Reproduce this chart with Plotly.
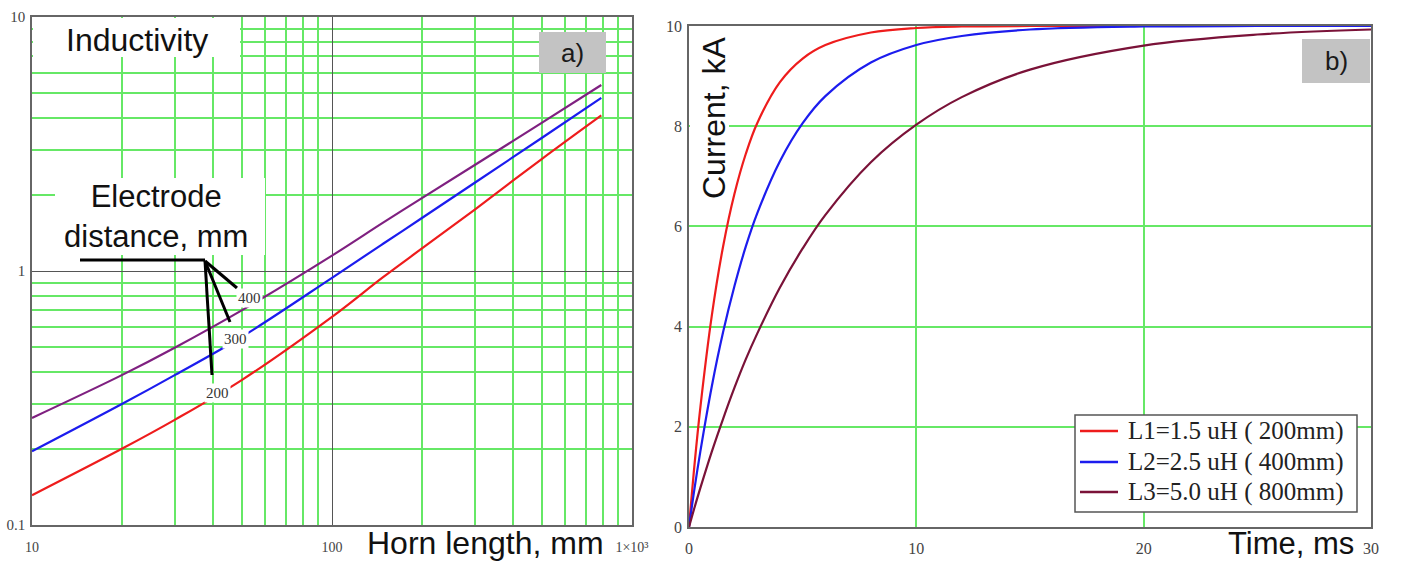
import math
import plotly.graph_objects as go

W, H = 1402, 563

# ---------------- data: panel a) inductivity vs horn length ----------------
horn_len = [10, 20, 30, 50, 100, 148, 200, 300, 500, 790]
L_d400 = [0.264, 0.39, 0.50, 0.70, 1.15, 1.55, 1.94, 2.62, 3.83, 5.4]
L_d300 = [0.195, 0.30, 0.39, 0.55, 0.94, 1.28, 1.62, 2.23, 3.34, 4.8]
L_d200 = [0.131, 0.20, 0.26, 0.372, 0.66, 0.946, 1.23, 1.75, 2.76, 4.1]

# ---------------- data: panel b) current vs time ----------------
time_ms = [0, 0.25, 0.5, 1, 1.5, 2, 2.5, 3, 4, 5, 6, 8, 10, 12, 15, 20, 25, 30]
I_L1 = [0, 1.28, 2.39, 4.21, 5.60, 6.65, 7.45, 8.06, 8.88, 9.35, 9.62, 9.87, 9.96, 9.99, 10, 10, 10, 10]
I_L2 = [0, 0.79, 1.51, 2.80, 3.89, 4.81, 5.60, 6.26, 7.30, 8.06, 8.60, 9.27, 9.62, 9.80, 9.93, 9.99, 10, 10]
I_L3 = [0, 0.40, 0.78, 1.50, 2.16, 2.78, 3.35, 3.86, 4.78, 5.56, 6.23, 7.28, 8.03, 8.58, 9.13, 9.61, 9.83, 9.93]

legend_names = ["L1=1.5 uH ( 200mm)", "L2=2.5 uH ( 400mm)", "L3=5.0 uH ( 800mm)"]
curve_labels = ["400", "300", "200"]
left_xticks = [10, 100, 1000]
left_xtext = ["10", "100", "1×10³"]
left_yticks = [0.1, 1, 10]
left_ytext = ["0.1", "1", "10"]
right_xticks = [0, 10, 20, 30]
right_yticks = [0, 2, 4, 6, 8, 10]

RED = "#ee1c1c"
BLUE = "#1c1cee"
PURPLE = "#7f2080"
MAROON = "#7a1238"
GREEN = "#66e866"
BORDER = "#666666"
SERIF = "Liberation Serif, Times New Roman, serif"
SANS = "Liberation Sans, Arial, sans-serif"

def px(x):
    return x / W

def py(y):
    return 1 - y / H

fig = go.Figure()

for yv, col in [(L_d400, PURPLE), (L_d300, BLUE), (L_d200, RED)]:
    fig.add_trace(go.Scatter(x=horn_len, y=yv, mode="lines", line=dict(color=col, width=2.2, shape="spline"),
                             showlegend=False, xaxis="x", yaxis="y", hoverinfo="skip"))

right_colors = [RED, BLUE, MAROON]
for yv, col, nm in zip([I_L1, I_L2, I_L3], right_colors, legend_names):
    fig.add_trace(go.Scatter(x=time_ms, y=yv, mode="lines", line=dict(color=col, width=2.2, shape="spline"),
                             name=nm, showlegend=False, xaxis="x2", yaxis="y2"))

minor_x = [v * d for d in (10, 100) for v in range(2, 10)]
minor_y = [v * d for d in (0.1, 1) for v in range(2, 10)]

fig.update_layout(
    width=W, height=H, margin=dict(l=0, r=0, t=0, b=0), autosize=False,
    paper_bgcolor="white", plot_bgcolor="white", showlegend=False,
    xaxis=dict(type="log", range=[1, 3], domain=[px(32), px(632)], anchor="y", automargin=False,
               tickvals=left_xticks, ticktext=left_xtext, showgrid=True, gridcolor="#555555", gridwidth=1.2,
               minor=dict(tickvals=minor_x, showgrid=True, gridcolor=GREEN, gridwidth=1.8, ticks=""),
               showline=True, linecolor=BORDER, linewidth=1.5, mirror=True, ticks="",
               tickfont=dict(family=SERIF, size=14, color="#444"), ticklabelstandoff=8, zeroline=False),
    yaxis=dict(type="log", range=[-1, 1], domain=[py(525), py(17)], anchor="x", automargin=False,
               tickvals=left_yticks, ticktext=left_ytext, showgrid=True, gridcolor="#555555", gridwidth=1.2,
               minor=dict(tickvals=minor_y, showgrid=True, gridcolor=GREEN, gridwidth=1.8, ticks=""),
               showline=True, linecolor=BORDER, linewidth=1.5, mirror=True, ticks="",
               tickfont=dict(family=SERIF, size=15, color="#444"), ticklabelstandoff=2, zeroline=False),
    xaxis2=dict(range=[0, 30], domain=[px(689), px(1371)], anchor="y2", automargin=False,
                tickvals=right_xticks, showgrid=True, gridcolor=GREEN, gridwidth=1.8,
                showline=True, linecolor=BORDER, linewidth=1.5, mirror=True, ticks="",
                tickfont=dict(family=SERIF, size=16, color="#444"), ticklabelstandoff=6, zeroline=False),
    yaxis2=dict(range=[0, 10], domain=[py(527), py(26)], anchor="x2", automargin=False,
                tickvals=right_yticks, showgrid=True, gridcolor=GREEN, gridwidth=1.8,
                showline=True, linecolor=BORDER, linewidth=1.5, mirror=True, ticks="",
                tickfont=dict(family=SERIF, size=16, color="#444"), ticklabelstandoff=2, zeroline=False),
)

shapes = []
# white boxes hiding the grid behind the texts
shapes.append(dict(type="rect", xref="paper", yref="paper", x0=px(33), x1=px(240), y0=py(57), y1=py(18),
                   fillcolor="white", line=dict(width=0), layer="above"))
shapes.append(dict(type="rect", xref="paper", yref="paper", x0=px(55), x1=px(265), y0=py(255), y1=py(178),
                   fillcolor="white", line=dict(width=0), layer="above"))
shapes.append(dict(type="rect", xref="paper", yref="paper", x0=px(690), x1=px(729), y0=py(198), y1=py(35),
                   fillcolor="white", line=dict(width=0), layer="above"))
# grey label boxes
shapes.append(dict(type="rect", xref="paper", yref="paper", x0=px(539), x1=px(606), y0=py(73), y1=py(32),
                   fillcolor="#c3c3c3", line=dict(width=0), layer="above"))
shapes.append(dict(type="rect", xref="paper", yref="paper", x0=px(1302), x1=px(1370), y0=py(83), y1=py(39),
                   fillcolor="#c3c3c3", line=dict(width=0), layer="above"))
# pointer lines
for (x0, y0, x1, y1) in [(80, 260, 205, 260), (205, 261, 237, 288), (205, 261, 230, 322), (205, 261, 212, 375)]:
    shapes.append(dict(type="line", xref="paper", yref="paper", x0=px(x0), y0=py(y0), x1=px(x1), y1=py(y1),
                       line=dict(color="black", width=3), layer="above"))
# legend box for panel b
shapes.append(dict(type="rect", xref="paper", yref="paper", x0=px(1075), x1=px(1357), y0=py(512), y1=py(415),
                   fillcolor="white", line=dict(color="#555555", width=1.5), layer="above"))
legend_rows = [431, 462, 492]
for col, yrow in zip(right_colors, legend_rows):
    shapes.append(dict(type="line", xref="paper", yref="paper", x0=px(1080), x1=px(1118), y0=py(yrow), y1=py(yrow),
                       line=dict(color=col, width=2.5), layer="above"))
fig.update_layout(shapes=shapes)

ann = []
def add_text(text, x, y, size, font=SANS, xanchor="center", color="#111", **kw):
    ann.append(dict(text=text, x=px(x), y=py(y), xref="paper", yref="paper", showarrow=False,
                    xanchor=xanchor, yanchor="middle", font=dict(family=font, size=size, color=color), **kw))

add_text("Inductivity", 137, 40, 32)
add_text("Electrode<br>distance, mm", 156, 216, 31)
add_text("a)", 572, 53, 26, color="#1a1a1a")
add_text("b)", 1336, 61, 26, color="#1a1a1a")
add_text("Horn length, mm", 485, 543, 32)
add_text("Time, ms", 1291, 543, 31)
add_text("Current, kA", 714, 118, 32, textangle=-90)
for nm, yrow in zip(legend_names, legend_rows):
    add_text(nm, 1126, yrow, 25, font=SERIF, xanchor="left", color="#222")

# curve labels in data coords
for txt, xv, yv in zip(curve_labels, [53, 47.5, 41.4], [0.78, 0.54, 0.331]):
    ann.append(dict(text=txt, x=math.log10(xv), y=math.log10(yv), xref="x", yref="y",
                    showarrow=False, bgcolor="white", borderpad=1, xanchor="center", yanchor="middle",
                    font=dict(family=SERIF, size=15, color="#333")))
fig.update_layout(annotations=ann)

fig.write_html("out.html")
